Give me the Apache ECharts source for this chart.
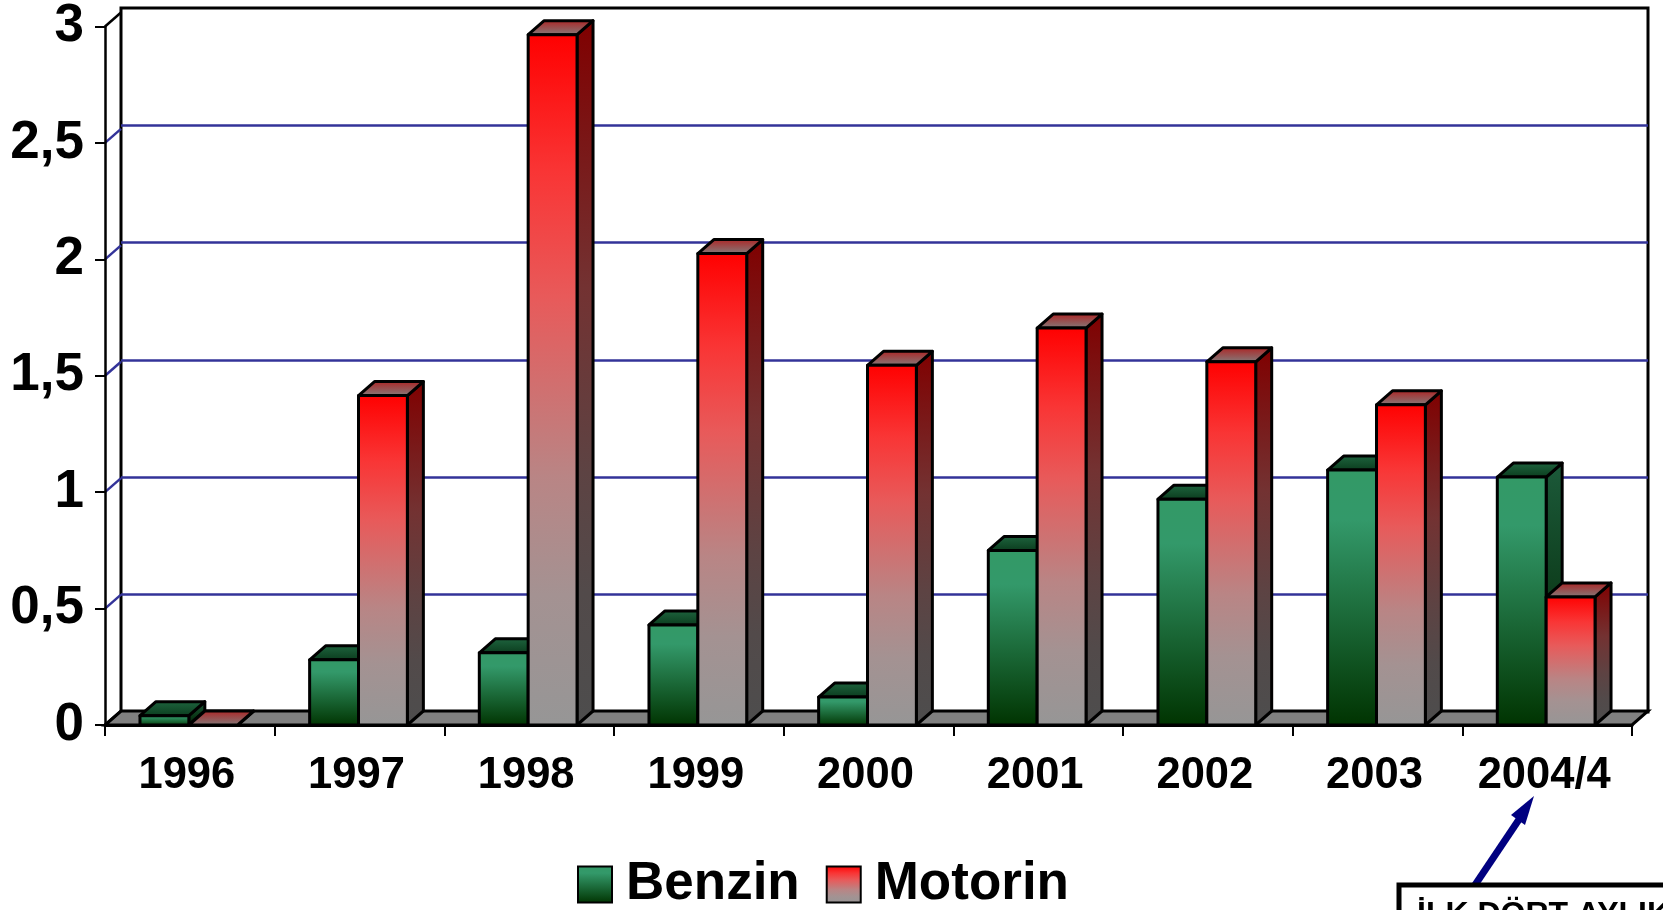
<!DOCTYPE html>
<html>
<head>
<meta charset="utf-8">
<title>Benzin / Motorin</title>
<script src="https://cdn.jsdelivr.net/npm/echarts@6/dist/echarts.min.js"></script>
<style>
  html, body { margin: 0; padding: 0; background: #fff; overflow: hidden; }
  #chart { width: 1663px; height: 910px; }
</style>
</head>
<body>
<div id="chart"></div>
<script>
// values
var categories = ['1996', '1997', '1998', '1999', '2000', '2001', '2002', '2003', '2004/4'];
var benzin = [0.04, 0.28, 0.31, 0.43, 0.12, 0.75, 0.97, 1.095, 1.065];
var motorin = [0, 1.415, 2.965, 2.025, 1.545, 1.705, 1.56, 1.375, 0.55];
var yTicks = [0, 0.5, 1, 1.5, 2, 2.5, 3];
var yTickLabels = ['0', '0,5', '1', '1,5', '2', '2,5', '3'];

var FONT = '"Liberation Sans", Arial, sans-serif';
var DX = 16, DY = 14; // 3d depth of the chart
var BAR = 0.288;      // bar width as share of the category band
var BAR_SHIFT = -1;

function grad(stops) {
  return { type: 'linear', x: 0, y: 0, x2: 0, y2: 1, colorStops: stops.map(function (s) { return { offset: s[0], color: s[1] }; }) };
}

var benzinColors = {
  front: grad([[0, '#339966'], [0.2, '#33996a'], [1, '#003300']]),
  side: grad([[0, '#1c5a3a'], [1, '#002200']]),
  top: grad([[0, '#1f6640'], [1, '#0a3a1c']])
};
var motorinColors = {
  front: grad([[0, '#ff0000'], [0.2, '#f93535'], [0.38, '#e85a5a'], [0.64, '#b98585'], [0.81, '#a49292'], [1, '#969696']]),
  side: grad([[0, '#800000'], [0.38, '#733232'], [0.64, '#5d4343'], [0.81, '#524a4a'], [1, '#4d4d4d']]),
  top: grad([[0, '#b02020'], [1, '#808080']])
};

function barRenderer(side, colors) {
  return function (params, api) {
    var c = api.coord([api.value(0), api.value(1)]);
    var base = api.coord([api.value(0), 0]);
    var w = api.size([1, 0])[0] * BAR;
    var x0 = (side < 0 ? c[0] - w : c[0]) + BAR_SHIFT;
    var x1 = x0 + w;
    var st = { stroke: '#000', lineWidth: 3, lineJoin: 'round' };
    var faces = [
      { type: 'polygon', shape: { points: [[x1, c[1]], [x1 + DX, c[1] - DY], [x1 + DX, base[1] - DY], [x1, base[1]]] },
        style: Object.assign({ fill: colors.side }, st) },
      { type: 'polygon', shape: { points: [[x0, c[1]], [x0 + DX, c[1] - DY], [x1 + DX, c[1] - DY], [x1, c[1]]] },
        style: Object.assign({ fill: colors.top }, st) }
    ];
    if (base[1] - c[1] > 0.5) {
      faces.push({ type: 'rect', shape: { x: x0, y: c[1], width: w, height: base[1] - c[1] },
        style: Object.assign({ fill: colors.front }, st) });
    }
    return { type: 'group', children: faces };
  };
}

// side wall diagonals, one per y tick
function wallRenderer(params, api) {
  var p = api.coord([0, api.value(0)]);
  var left = p[0] - api.size([1, 0])[0] / 2;
  var isEnd = api.value(0) === 0 || api.value(0) === 3;
  return { type: 'line', shape: { x1: left, y1: p[1], x2: left + DX, y2: p[1] - DY },
    style: { stroke: isEnd ? '#000' : '#333399', lineWidth: 2.5 } };
}

// floor polygon, from the axis ends
function floorRenderer(params, api) {
  var s = api.size([1, 0])[0];
  var a = api.coord([0, 0]), b = api.coord([categories.length - 1, 0]);
  var l = a[0] - s / 2, r = b[0] + s / 2;
  return { type: 'polygon', shape: { points: [[l, a[1]], [l + DX, a[1] - DY], [r + DX, a[1] - DY], [r, a[1]]] },
    style: { fill: '#808080', stroke: '#000', lineWidth: 3 } };
}

var chart = echarts.init(document.getElementById('chart'));
chart.setOption({
  backgroundColor: '#fff',
  animation: false,
  grid: [
    { left: 105, top: 22, width: 1527, height: 703 },
    { left: 121, top: 8, width: 1527, height: 704, show: true, backgroundColor: '#fff', borderColor: '#000', borderWidth: 3 }
  ],
  xAxis: [
    {
      type: 'category', gridIndex: 0, data: categories, z: 5,
      axisLine: { show: true, lineStyle: { color: '#000', width: 3 } },
      axisTick: { show: true, alignWithLabel: false, length: 11, lineStyle: { color: '#000', width: 2 } },
      axisLabel: { color: '#000', fontFamily: FONT, fontWeight: 'bold', fontSize: 43.5, margin: 29, interval: 0, padding: [0, 6, 0, 0] }
    },
    { type: 'category', gridIndex: 1, data: categories, axisLine: { show: false }, axisTick: { show: false }, axisLabel: { show: false } }
  ],
  yAxis: [
    {
      type: 'value', gridIndex: 0, min: 0, max: 3, interval: 0.5, z: 5,
      axisLine: { show: true, lineStyle: { color: '#000', width: 2.5 } },
      axisTick: { show: true, length: 10, lineStyle: { color: '#000', width: 2 } },
      splitLine: { show: false },
      axisLabel: {
        color: '#000', fontFamily: FONT, fontWeight: 'bold', fontSize: 53, margin: 21, padding: [3, 0, 0, 0],
        formatter: function (v) { return yTickLabels[yTicks.indexOf(v)]; }
      }
    },
    {
      type: 'value', gridIndex: 1, min: 0, max: 3, interval: 0.5,
      axisLine: { show: false }, axisTick: { show: false }, axisLabel: { show: false },
      splitLine: { show: true, showMinLine: false, showMaxLine: false, lineStyle: { color: '#333399', width: 2.5 } }
    }
  ],
  legend: {
    data: ['Benzin', 'Motorin'],
    left: 572, top: 853, itemWidth: 34, itemHeight: 36, itemGap: 26,
    textStyle: { color: '#000', fontFamily: FONT, fontWeight: 'bold', fontSize: 53, padding: [3, 0, 0, 9] },
    icon: 'rect'
  },
  series: [
    { name: 'floor', type: 'custom', xAxisIndex: 0, yAxisIndex: 0, z: 1, silent: true, clip: false, renderItem: floorRenderer, data: [[0]], encode: { x: -1, y: -1 } },
    { name: 'wall', type: 'custom', xAxisIndex: 0, yAxisIndex: 0, z: 1, silent: true, clip: false, renderItem: wallRenderer, data: yTicks.map(function (v) { return [v]; }), encode: { x: -1, y: 0 } },
    {
      name: 'Benzin', type: 'custom', xAxisIndex: 0, yAxisIndex: 0, z: 2, clip: false,
      renderItem: barRenderer(-1, benzinColors),
      itemStyle: { color: benzinColors.front, borderColor: '#000', borderWidth: 3 },
      encode: { x: 0, y: 1 },
      data: benzin.map(function (v, i) { return [i, v]; })
    },
    {
      name: 'Motorin', type: 'custom', xAxisIndex: 0, yAxisIndex: 0, z: 3, clip: false,
      renderItem: barRenderer(1, motorinColors),
      itemStyle: { color: motorinColors.front, borderColor: '#000', borderWidth: 3 },
      encode: { x: 0, y: 1 },
      data: motorin.map(function (v, i) { return [i, v]; })
    }
  ],
  graphic: [
    { type: 'line', z: 10, shape: { x1: 1475, y1: 885, x2: 1522, y2: 815 }, style: { stroke: '#000080', lineWidth: 7 } },
    { type: 'polygon', z: 10, shape: { points: [[1534, 796], [1525, 825], [1511, 815]] }, style: { fill: '#000080' } },
    { type: 'rect', z: 10, shape: { x: 1399, y: 885, width: 300, height: 60 }, style: { fill: '#fff', stroke: '#000', lineWidth: 5 } },
    { type: 'text', z: 11, x: 1417, y: 899, style: { text: 'İLK DÖRT AYLIK', fill: '#000', font: 'bold 32px "Liberation Sans", Arial, sans-serif' } }
  ]
});
</script>
</body>
</html>
